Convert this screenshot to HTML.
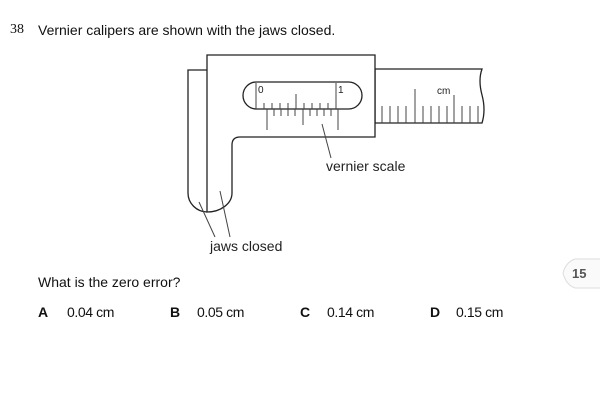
<!DOCTYPE html>
<html><head><style>
body{margin:0;width:600px;height:407px;background:#fff;position:relative;overflow:hidden;font-family:"Liberation Sans",Arial,sans-serif;color:#111}
.t{position:absolute;font-size:14px;white-space:nowrap}
.o{letter-spacing:-0.4px}
b{font-weight:bold}
</style></head><body>
<div class="t" style="left:10px;top:22px;font-family:'Liberation Serif',serif;font-size:14px">38</div>
<div class="t" style="left:38px;top:22px">Vernier calipers are shown with the jaws closed.</div>
<svg width="600" height="407" style="position:absolute;left:0;top:0" font-family="Liberation Sans, sans-serif">
<g stroke="#222" stroke-width="1.3" fill="#fff">
<path d="M375 69 H482 Q478 80 482 95 Q486 110 482 123 H375 Z"/>
<path d="M207 70 H188 V193 A19.5 19 0 0 0 207 212"/>
<path d="M207 55 H375 V137 H240 Q232 137 232 145 V193 A25 19 0 0 1 207 212 Z"/>
<rect x="243" y="82" width="119" height="27" rx="13.5"/>
</g>
<g stroke="#444" stroke-width="1">
<line x1="256" y1="109" x2="256" y2="83"/>
<line x1="264" y1="109" x2="264" y2="103"/><line x1="272" y1="109" x2="272" y2="103"/><line x1="280" y1="109" x2="280" y2="103"/><line x1="288" y1="109" x2="288" y2="103"/>
<line x1="296" y1="109" x2="296" y2="94"/>
<line x1="304" y1="109" x2="304" y2="103"/><line x1="312" y1="109" x2="312" y2="103"/><line x1="320" y1="109" x2="320" y2="103"/><line x1="328" y1="109" x2="328" y2="103"/>
<line x1="336" y1="109" x2="336" y2="83"/>
<line x1="267" y1="109" x2="267" y2="130"/>
<line x1="274" y1="109" x2="274" y2="116"/><line x1="281" y1="109" x2="281" y2="116"/><line x1="288" y1="109" x2="288" y2="116"/><line x1="295" y1="109" x2="295" y2="116"/>
<line x1="303" y1="109" x2="303" y2="125"/>
<line x1="310" y1="109" x2="310" y2="116"/><line x1="317" y1="109" x2="317" y2="116"/><line x1="324" y1="109" x2="324" y2="116"/><line x1="331" y1="109" x2="331" y2="116"/>
<line x1="338" y1="109" x2="338" y2="130"/>
<line x1="382" y1="123" x2="382" y2="106"/><line x1="390" y1="123" x2="390" y2="106"/><line x1="398" y1="123" x2="398" y2="106"/><line x1="406" y1="123" x2="406" y2="106"/>
<line x1="415" y1="123" x2="415" y2="89"/>
<line x1="423" y1="123" x2="423" y2="106"/><line x1="431" y1="123" x2="431" y2="106"/><line x1="439" y1="123" x2="439" y2="106"/><line x1="447" y1="123" x2="447" y2="106"/>
<line x1="454" y1="123" x2="454" y2="95"/>
<line x1="462" y1="123" x2="462" y2="106"/><line x1="470" y1="123" x2="470" y2="106"/><line x1="478" y1="123" x2="478" y2="106"/>
<line x1="322" y1="124" x2="331" y2="158"/>
<line x1="199" y1="202" x2="215" y2="237"/>
<line x1="220" y1="191" x2="230" y2="237"/>
</g>
<text x="258" y="93" font-size="10" fill="#222">0</text>
<text x="338" y="93" font-size="10" fill="#222">1</text>
<text x="437" y="94" font-size="10" fill="#222">cm</text>
<text x="326" y="171" font-size="14" fill="#222">vernier scale</text>
<text x="210" y="251" font-size="14" fill="#222">jaws closed</text>
<path d="M600 259 H575 Q566 262 563 273 Q566 285 575 288 H600" fill="#fafafa" stroke="#ddd"/>
<text x="572" y="278" font-size="13" font-weight="bold" fill="#555">15</text>
</svg>
<div class="t" style="left:38px;top:274px">What is the zero error?</div>
<div class="t" style="left:38px;top:304px"><b>A</b></div><div class="t o" style="left:67px;top:304px">0.04 cm</div>
<div class="t" style="left:170px;top:304px"><b>B</b></div><div class="t o" style="left:197px;top:304px">0.05 cm</div>
<div class="t" style="left:300px;top:304px"><b>C</b></div><div class="t o" style="left:327px;top:304px">0.14 cm</div>
<div class="t" style="left:430px;top:304px"><b>D</b></div><div class="t o" style="left:456px;top:304px">0.15 cm</div>
</body></html>
